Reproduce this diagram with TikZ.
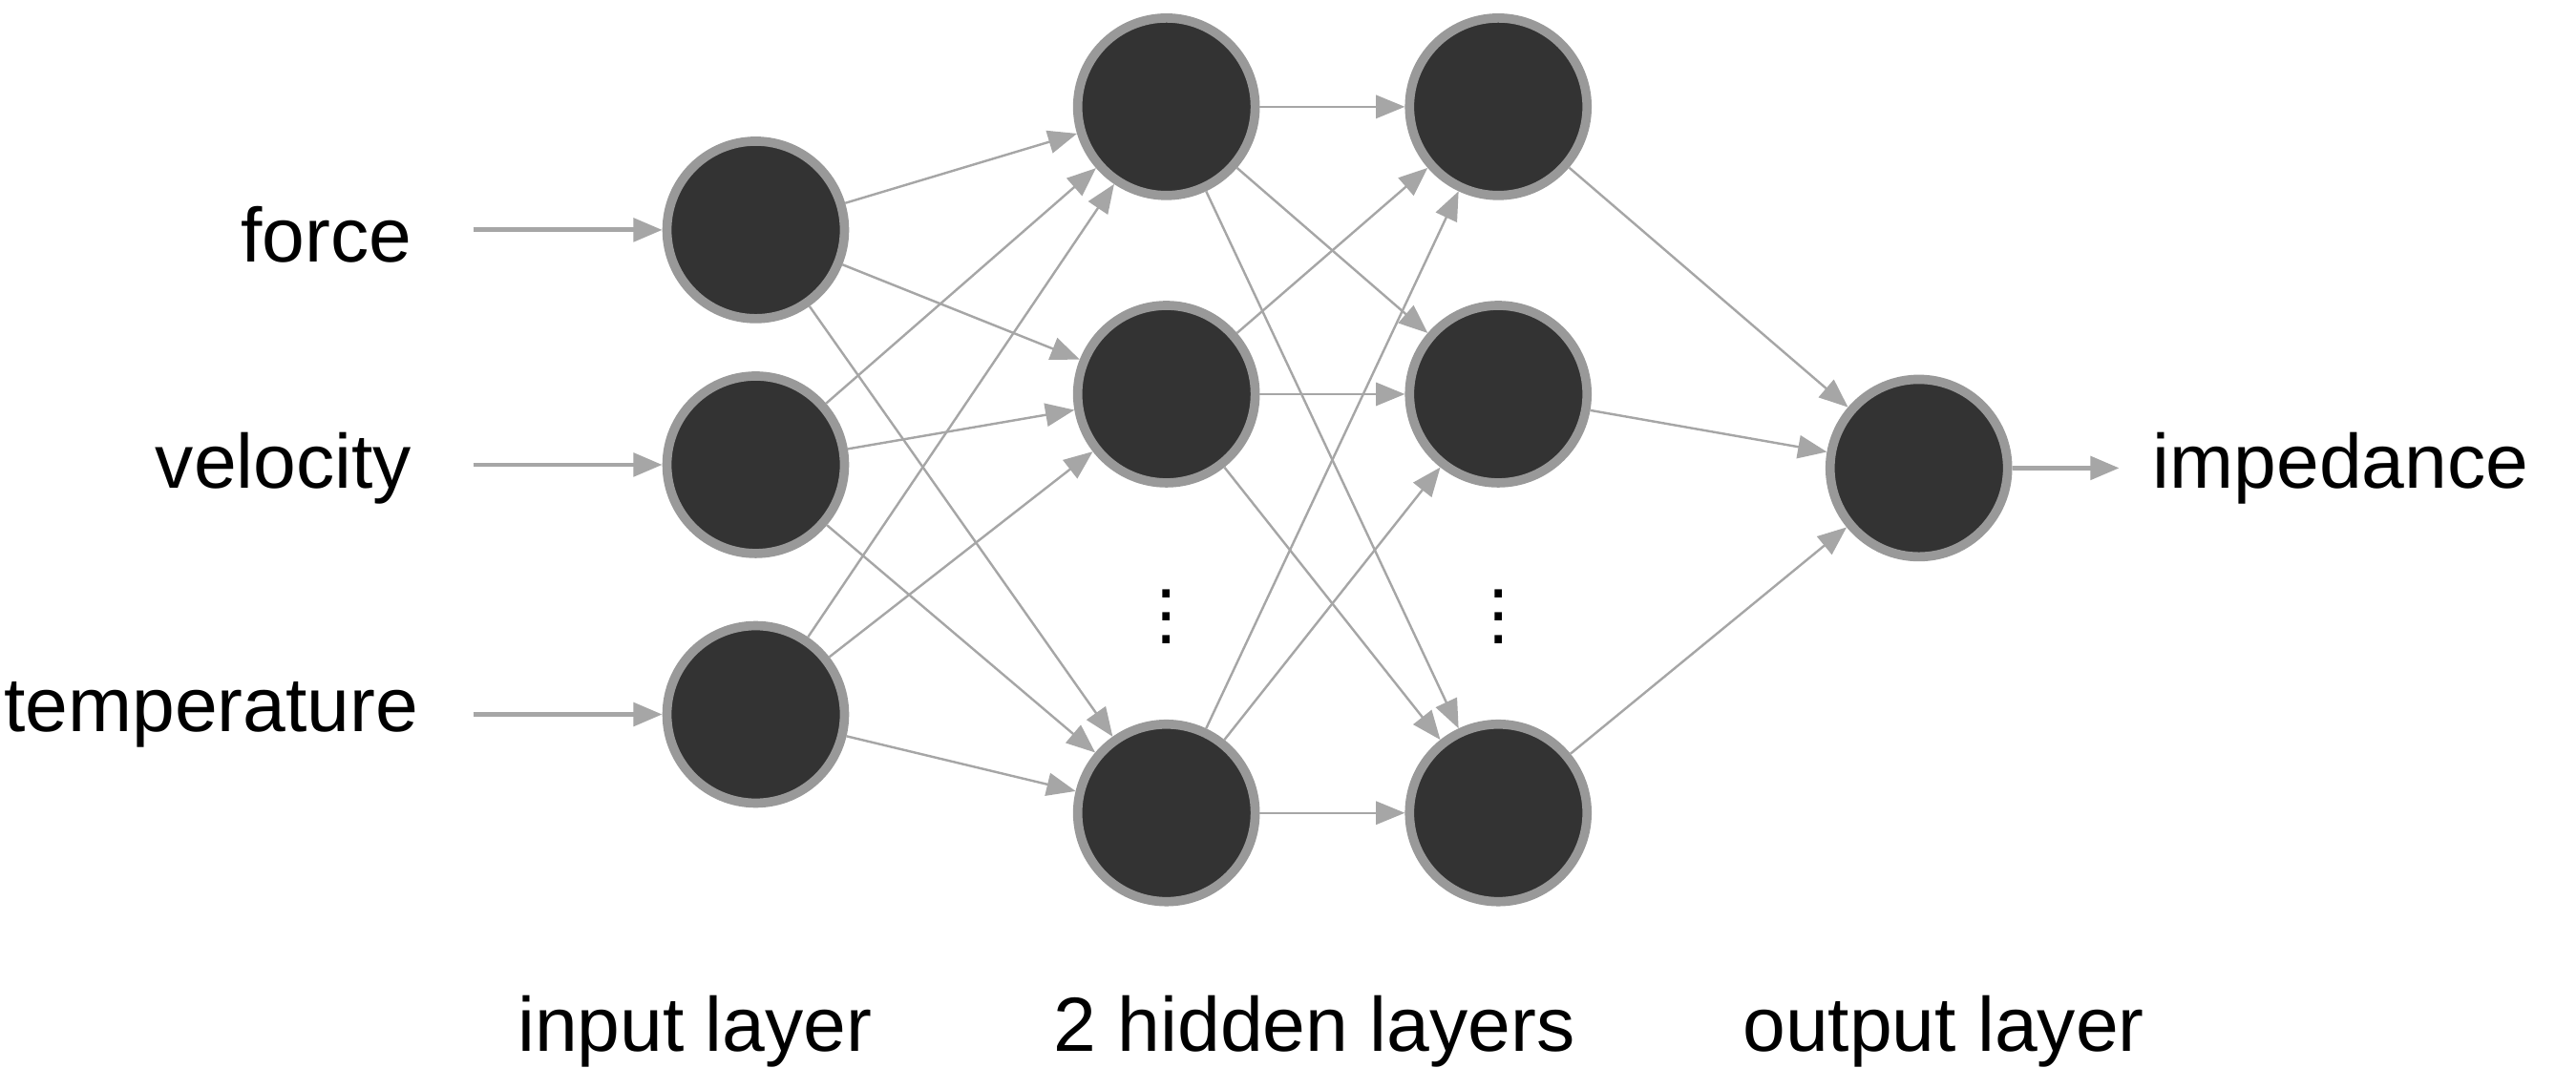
\documentclass[tikz,border=0pt]{standalone}
\usepackage{fontspec}
\setmainfont{Liberation Sans}
\usetikzlibrary{arrows.meta,positioning}

\begin{document}
\begin{tikzpicture}[
    x=0.01cm, y=-0.01cm,
    neuron/.style={circle, draw=gray!80, line width=1.6pt, fill=black!80, minimum size=1.08cm, inner sep=0pt},
    link/.style={-{Triangle[length=5pt,width=4pt]}, draw=gray!60, line width=0.4pt, color=gray!70},
    feed/.style={-{Triangle[length=5pt,width=4pt]}, draw=gray!60, line width=0.8pt, color=gray!70},
    label/.style={font=\fontsize{13.3}{15}\selectfont},
    layer/.style={font=\fontsize{13.3}{15}\selectfont}
]
\useasboundingbox (0,0) rectangle (1568,663);

% Input layer
\node[neuron] (in1) at (460,140) {};
\node[neuron] (in2) at (460,283) {};
\node[neuron] (in3) at (460,435) {};

% Hidden layers
\node[neuron] (ha1) at (710,65) {};
\node[neuron] (ha2) at (710,240) {};
\node[neuron] (ha3) at (710,495) {};
\node[neuron] (hb1) at (912,65) {};
\node[neuron] (hb2) at (912,240) {};
\node[neuron] (hb3) at (912,495) {};
\node[label, inner sep=0pt] (dotsa) at (710,365) {$\vdots$};
\node[label, inner sep=0pt] (dotsb) at (912,365) {$\vdots$};

% Output layer
\node[neuron] (out) at (1168,285) {};

% Input and output texts
\node[label, anchor=east] (force) at (263,143) {force};
\node[label, anchor=east] (velocity) at (263,285) {velocity};
\node[label, anchor=east] (temperature) at (267,435) {temperature};
\node[label, anchor=west] (impedance) at (1298,285) {impedance};
\coordinate (f0) at (288,140);
\coordinate (v0) at (288,283);
\coordinate (t0) at (288,435);
\coordinate (o0) at (1290,285);

% Feeds
\draw[feed] (f0) -- (in1);
\draw[feed] (v0) -- (in2);
\draw[feed] (t0) -- (in3);
\draw[feed] (out) -- (o0);

% Connections
\foreach \i in {1,2,3}
  \foreach \j in {1,2,3}
    \draw[link] (in\i) -- (ha\j);
\foreach \i in {1,2,3}
  \foreach \j in {1,2,3}
    \draw[link] (ha\i) -- (hb\j);
\foreach \i in {1,2,3}
  \draw[link] (hb\i) -- (out);

% Layer names
\node[layer] (inlayer) at (423,628) {input layer};
\node[layer] (hidlayer) at (800,628) {2 hidden layers};
\node[layer] (outlayer) at (1183,628) {output layer};

\end{tikzpicture}
\end{document}
